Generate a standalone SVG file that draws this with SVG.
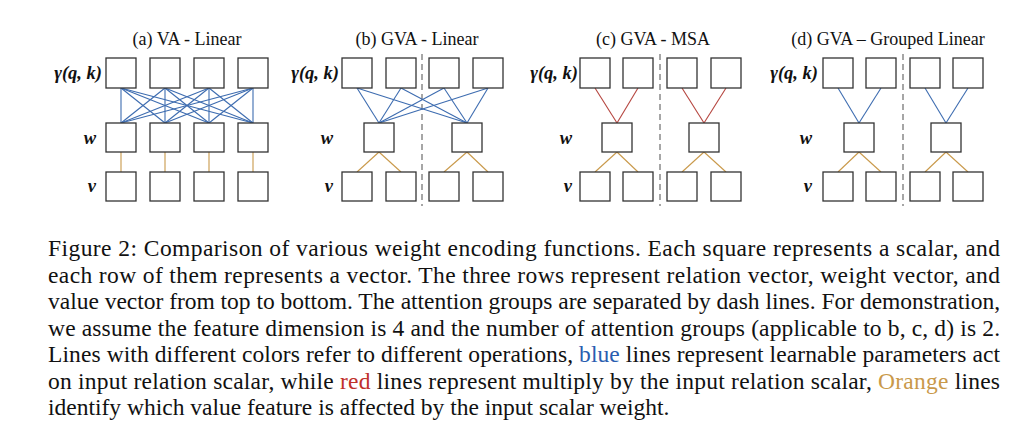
<svg xmlns="http://www.w3.org/2000/svg" width="1032" height="428" viewBox="0 0 1032 428">
<style>
.b{fill:#fff;stroke:#333;stroke-width:1.3}
.t{font-family:"Liberation Serif",serif;font-size:18px;fill:#111;text-anchor:middle}
.l{font-family:"Liberation Serif",serif;font-size:18.5px;font-weight:bold;font-style:italic;fill:#111;text-anchor:end}
.c{font-family:"Liberation Serif",serif;font-size:23.5px;fill:#111}
.bl{stroke:#3d6cb0;stroke-width:1.1}
.rd{stroke:#b5453f;stroke-width:1.1}
.or{stroke:#c9994a;stroke-width:1.1}
.d{stroke:#777;stroke-width:1.3;stroke-dasharray:6,4}
</style>
<rect width="1032" height="428" fill="#fff"/>
<g id="titles">
<text class="t" x="187" y="45">(a) VA - Linear</text>
<text class="t" x="417" y="45">(b) GVA - Linear</text>
<text class="t" x="653" y="45">(c) GVA - MSA</text>
<text class="t" x="888" y="45">(d) GVA – Grouped Linear</text>
</g>
<g id="labels">
<text class="l" x="102" y="79">γ(q, k)</text><text class="l" x="96" y="144">w</text><text class="l" x="96" y="192">v</text>
<text class="l" x="339" y="79">γ(q, k)</text><text class="l" x="333" y="144">w</text><text class="l" x="333" y="192">v</text>
<text class="l" x="578" y="79">γ(q, k)</text><text class="l" x="572" y="144">w</text><text class="l" x="572" y="192">v</text>
<text class="l" x="818" y="79">γ(q, k)</text><text class="l" x="812" y="144">w</text><text class="l" x="812" y="192">v</text>
</g>
<g id="connectors">
<line class="d" x1="422" y1="54" x2="422" y2="206"/>
<line class="d" x1="660" y1="54" x2="660" y2="206"/>
<line class="d" x1="903" y1="54" x2="903" y2="206"/>
<g class="bl">
<line x1="121" y1="88" x2="121" y2="123"/><line x1="121" y1="88" x2="165" y2="123"/><line x1="121" y1="88" x2="209" y2="123"/><line x1="121" y1="88" x2="253" y2="123"/>
<line x1="165" y1="88" x2="121" y2="123"/><line x1="165" y1="88" x2="165" y2="123"/><line x1="165" y1="88" x2="209" y2="123"/><line x1="165" y1="88" x2="253" y2="123"/>
<line x1="209" y1="88" x2="121" y2="123"/><line x1="209" y1="88" x2="165" y2="123"/><line x1="209" y1="88" x2="209" y2="123"/><line x1="209" y1="88" x2="253" y2="123"/>
<line x1="253" y1="88" x2="121" y2="123"/><line x1="253" y1="88" x2="165" y2="123"/><line x1="253" y1="88" x2="209" y2="123"/><line x1="253" y1="88" x2="253" y2="123"/>
<line x1="357" y1="88" x2="379" y2="123"/><line x1="357" y1="88" x2="467" y2="123"/>
<line x1="401" y1="88" x2="379" y2="123"/><line x1="401" y1="88" x2="467" y2="123"/>
<line x1="444" y1="88" x2="379" y2="123"/><line x1="444" y1="88" x2="467" y2="123"/>
<line x1="488" y1="88" x2="379" y2="123"/><line x1="488" y1="88" x2="467" y2="123"/>
<line x1="838" y1="88" x2="859" y2="123"/><line x1="881" y1="88" x2="859" y2="123"/>
<line x1="925" y1="88" x2="946" y2="123"/><line x1="968" y1="88" x2="946" y2="123"/>
</g>
<g class="rd">
<line x1="595" y1="88" x2="617" y2="123"/><line x1="638" y1="88" x2="617" y2="123"/>
<line x1="682" y1="88" x2="704" y2="123"/><line x1="726" y1="88" x2="704" y2="123"/>
</g>
<g class="or">
<line x1="121" y1="152" x2="121" y2="172"/><line x1="165" y1="152" x2="165" y2="172"/><line x1="209" y1="152" x2="209" y2="172"/><line x1="253" y1="152" x2="253" y2="172"/>
<line x1="379" y1="152" x2="357" y2="172"/><line x1="379" y1="152" x2="401" y2="172"/>
<line x1="467" y1="152" x2="444" y2="172"/><line x1="467" y1="152" x2="488" y2="172"/>
<line x1="617" y1="152" x2="595" y2="172"/><line x1="617" y1="152" x2="638" y2="172"/>
<line x1="704" y1="152" x2="682" y2="172"/><line x1="704" y1="152" x2="726" y2="172"/>
<line x1="859" y1="152" x2="838" y2="172"/><line x1="859" y1="152" x2="881" y2="172"/>
<line x1="946" y1="152" x2="925" y2="172"/><line x1="946" y1="152" x2="968" y2="172"/>
</g>
</g>
<g id="nodes-a">
<rect class="b" x="106" y="58" width="30" height="30"/><rect class="b" x="150" y="58" width="30" height="30"/><rect class="b" x="194" y="58" width="30" height="30"/><rect class="b" x="238" y="58" width="30" height="30"/>
<rect class="b" x="106" y="123" width="30" height="29"/><rect class="b" x="150" y="123" width="30" height="29"/><rect class="b" x="194" y="123" width="30" height="29"/><rect class="b" x="238" y="123" width="30" height="29"/>
<rect class="b" x="106" y="172" width="30" height="29"/><rect class="b" x="150" y="172" width="30" height="29"/><rect class="b" x="194" y="172" width="30" height="29"/><rect class="b" x="238" y="172" width="30" height="29"/>
</g>
<g id="nodes-b">
<rect class="b" x="342" y="58" width="30" height="30"/><rect class="b" x="386" y="58" width="30" height="30"/><rect class="b" x="429" y="58" width="30" height="30"/><rect class="b" x="473" y="58" width="30" height="30"/>
<rect class="b" x="364" y="123" width="30" height="29"/><rect class="b" x="452" y="123" width="30" height="29"/>
<rect class="b" x="342" y="172" width="30" height="29"/><rect class="b" x="386" y="172" width="30" height="29"/><rect class="b" x="429" y="172" width="30" height="29"/><rect class="b" x="473" y="172" width="30" height="29"/>
</g>
<g id="nodes-c">
<rect class="b" x="580" y="58" width="30" height="30"/><rect class="b" x="623" y="58" width="30" height="30"/><rect class="b" x="667" y="58" width="30" height="30"/><rect class="b" x="711" y="58" width="30" height="30"/>
<rect class="b" x="602" y="123" width="30" height="29"/><rect class="b" x="689" y="123" width="30" height="29"/>
<rect class="b" x="580" y="172" width="30" height="29"/><rect class="b" x="623" y="172" width="30" height="29"/><rect class="b" x="667" y="172" width="30" height="29"/><rect class="b" x="711" y="172" width="30" height="29"/>
</g>
<g id="nodes-d">
<rect class="b" x="823" y="58" width="30" height="30"/><rect class="b" x="866" y="58" width="30" height="30"/><rect class="b" x="910" y="58" width="30" height="30"/><rect class="b" x="953" y="58" width="30" height="30"/>
<rect class="b" x="844" y="123" width="30" height="29"/><rect class="b" x="931" y="123" width="30" height="29"/>
<rect class="b" x="823" y="172" width="30" height="29"/><rect class="b" x="866" y="172" width="30" height="29"/><rect class="b" x="910" y="172" width="30" height="29"/><rect class="b" x="953" y="172" width="30" height="29"/>
</g>
<g id="caption" class="c">
<text x="48" y="256" textLength="952" lengthAdjust="spacing">Figure 2: Comparison of various weight encoding functions. Each square represents a scalar, and</text>
<text x="48" y="283" textLength="952" lengthAdjust="spacing">each row of them represents a vector. The three rows represent relation vector, weight vector, and</text>
<text x="48" y="309" textLength="952" lengthAdjust="spacing">value vector from top to bottom. The attention groups are separated by dash lines. For demonstration,</text>
<text x="48" y="336" textLength="952" lengthAdjust="spacing">we assume the feature dimension is 4 and the number of attention groups (applicable to b, c, d) is 2.</text>
<text x="48" y="362" textLength="952" lengthAdjust="spacing">Lines with different colors refer to different operations, <tspan fill="#2a5db0">blue</tspan> lines represent learnable parameters act</text>
<text x="48" y="389" textLength="952" lengthAdjust="spacing">on input relation scalar, while <tspan fill="#c0312b">red</tspan> lines represent multiply by the input relation scalar, <tspan fill="#c9994a">Orange</tspan> lines</text>
<text x="48" y="415">identify which value feature is affected by the input scalar weight.</text>
</g>
</svg>
